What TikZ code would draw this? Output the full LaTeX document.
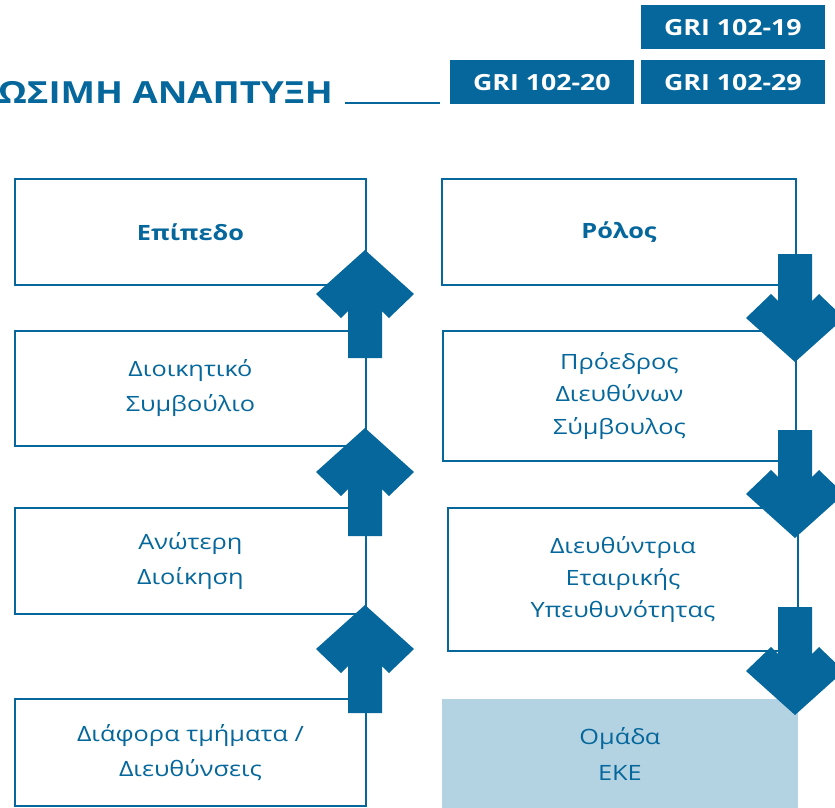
\documentclass[tikz,border=0pt]{standalone}
\usepackage{fontspec}
\setmainfont{Open Sans}[FakeStretch=1.2]
\usetikzlibrary{positioning}

\definecolor{ekeblue}{RGB}{5,103,155}
\definecolor{ekelight}{RGB}{179,210,226}

\begin{document}
\begin{tikzpicture}[
        x=0.03cm, y=-0.03cm,
        level box/.style = {rectangle, draw=ekeblue, line width=1.6pt, anchor=north west, align=center,
            text=ekeblue, font=\fontsize{18}{30}\selectfont, inner sep=0pt},
        tight/.style = {font=\fontsize{18}{27.5}\selectfont},
        gri tag/.style = {rectangle, fill=ekeblue, anchor=north west, text=white,
            font=\fontsize{19}{24}\selectfont\bfseries, minimum width=5.5cm, minimum height=1.32cm},
        link/.style = {draw=ekeblue, line width=1.6pt},
        uparr/.pic = {
            \fill[ekeblue] (0,-54) -- (-49,-10) -- (-24,14) -- (-17,7) -- (-17,54) -- (17,54)
                -- (17,7) -- (24,14) -- (49,-10) -- cycle;
        },
        downarr/.pic = {
            \fill[ekeblue] (0,54) -- (-49,10) -- (-24,-14) -- (-17,-7) -- (-17,-54) -- (17,-54)
                -- (17,-7) -- (24,-14) -- (49,10) -- cycle;
        }
    ]
    \useasboundingbox (0,0) rectangle (835,808);
    \clip (0,0) rectangle (835,808);

    % header
    \node [anchor=base east, text=ekeblue, font=\fontsize{26}{30}\selectfont\bfseries, inner sep=0pt] (title) at (333,103) {ΩΣΙΜΗ ΑΝΑΠΤΥΞΗ};
    \coordinate (rule) at (440,103);
    \draw [link] ([xshift=12*0.03cm]title.base east) -- (rule);
    \node [gri tag] (g19) at (641,5) {GRI 102-19};
    \node [gri tag] (g20) at (450,60) {GRI 102-20};
    \node [gri tag] (g29) at (641,60) {GRI 102-29};

    %nodes
    \node [level box, minimum width=10.53cm, minimum height=3.18cm] (l1) at (14,178) {\bfseries Επίπεδο};
    \node [level box, minimum width=10.53cm, minimum height=3.45cm] (l2) at (14,330) {Διοικητικό\\Συμβούλιο};
    \node [level box, minimum width=10.53cm, minimum height=3.18cm] (l3) at (14,507) {Ανώτερη\\Διοίκηση};
    \node [level box, minimum width=10.53cm, minimum height=3.21cm] (l4) at (14,698) {Διάφορα τμήματα /\\Διευθύνσεις};
    \node [level box, minimum width=10.62cm, minimum height=3.18cm] (r1) at (441,178) {\bfseries Ρόλος};
    \node [level box, tight, minimum width=10.59cm, minimum height=3.9cm] (r2) at (442,330) {Πρόεδρος\\Διευθύνων\\Σύμβουλος};
    \node [level box, tight, minimum width=10.5cm, minimum height=4.29cm] (r3) at (447,507) {Διευθύντρια\\Εταιρικής\\Υπευθυνότητας};
    \node [level box, draw=none, fill=ekelight, minimum width=10.68cm, minimum height=3.3cm] (r4) at (441,698) {Ομάδα\\ΕΚΕ};

    % lines
    \foreach \a/\b in {l1/l2, l2/l3, l3/l4, r1/r2, r2/r3, r3/r4}
        \draw [link] (\a.south east) -- (\a.south east |- \b.north);

    % arrows
    \foreach \y in {304, 482, 659}
        \pic at (365,\y) {uparr};
    \foreach \y in {308, 484, 661}
        \pic at (795,\y) {downarr};

\end{tikzpicture}
\end{document}
